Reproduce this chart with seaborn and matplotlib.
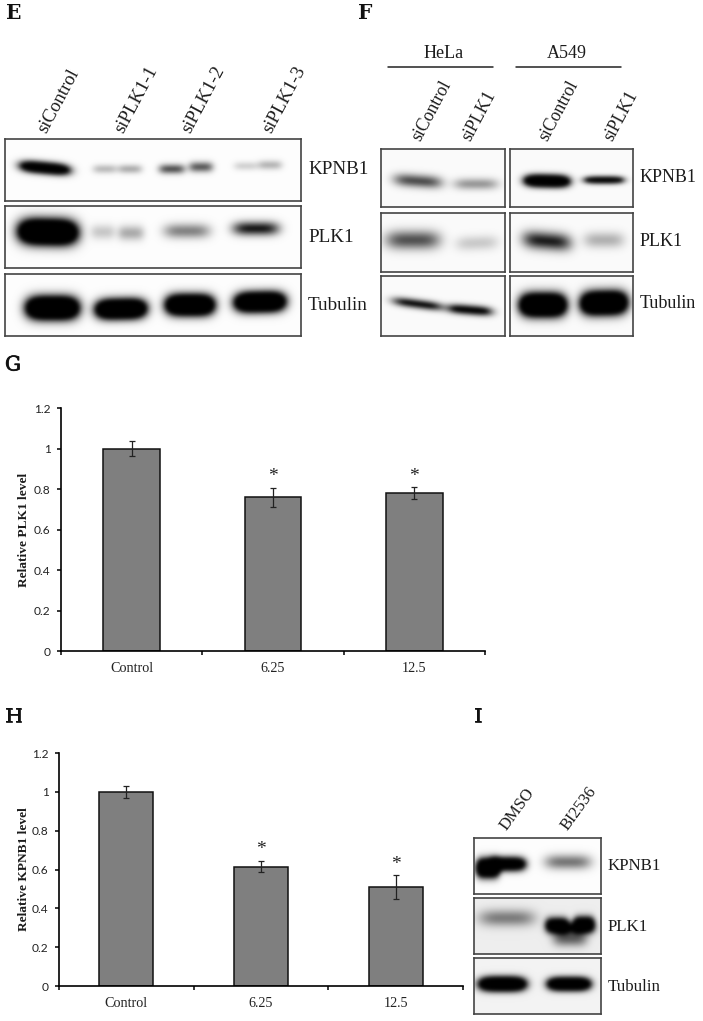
import numpy as np
import seaborn as sns
import matplotlib
matplotlib.use("Agg")
import matplotlib.pyplot as plt
import matplotlib.patheffects as pe

W, H = 703, 1021
SERIF = "Liberation Serif"

# bar chart data
doses = ["Control", "6.25", "12.5"]
plk1_level = [1.0, 0.76, 0.78]
plk1_err = [0.035, 0.047, 0.028]
kpnb1_level = [1.0, 0.615, 0.51]
kpnb1_err = [0.03, 0.029, 0.06]
yticks = [0, 0.2, 0.4, 0.6, 0.8, 1, 1.2]

# blot lane labels
e_lanes = ["siControl", "siPLK1-1", "siPLK1-2", "siPLK1-3"]
f_lanes = ["siControl", "siPLK1"]
i_lanes = ["DMSO", "BI2536"]
proteins = ["KPNB1", "PLK1", "Tubulin"]

# bands: centre x, centre y, half width, half height, darkness, tilt
e_kpnb1 = [(45, 168, 24, 5, 2.2, 0.09),
           (105, 169, 12, 3.8, 0.3, 0), (130, 169, 12, 3.8, 0.36, 0),
           (172, 169, 13, 4.2, 0.75, 0), (201, 167, 12, 4.6, 0.7, 0),
           (246, 166, 12, 3.6, 0.2, 0), (270, 165, 12, 4, 0.32, 0)]
e_plk1 = [(48, 232, 28, 11, 3, 0.02),
          (103, 232, 12, 7, 0.22, 0), (131, 233, 13, 7, 0.34, 0),
          (187, 231, 23, 7, 0.5, 0),
          (256, 228.5, 23, 6.5, 0.95, 0)]
e_tubulin = [(52.5, 308, 25, 10, 3, 0), (121, 309, 24, 8.5, 3, -0.02),
             (190, 305, 23, 9, 3, 0), (260, 302, 24, 8.5, 3, -0.02)]

f_hela_kpnb1 = [(418, 181, 24, 6, 0.72, 0.07), (476, 184, 22, 5.2, 0.42, 0)]
f_hela_plk1 = [(413, 240, 27, 9, 0.68, 0), (477, 243, 21, 7, 0.2, -0.04)]
f_hela_tubulin = [(418, 304, 25, 4, 1.1, 0.13), (470, 310, 22, 4.2, 1.3, 0.08)]
f_a549_kpnb1 = [(547, 181, 21, 5, 3, 0.02), (604, 180, 19, 3, 1.9, 0)]
f_a549_plk1 = [(547, 241, 24, 8.5, 0.9, 0.08), (604, 240, 20, 7.5, 0.3, 0)]
f_a549_tubulin = [(543, 305, 22, 10, 3, 0), (604, 303, 22, 10, 3, -0.02)]

i_kpnb1 = [(488, 868, 11, 8, 3, 0), (508, 864, 17, 6, 2.2, 0),
           (568, 862, 23, 7, 0.55, 0)]
i_plk1 = [(507, 918, 28, 8, 0.46, 0), (557, 925, 11, 6.5, 1.7, 0),
          (584, 924, 10, 6.5, 2, 0), (571, 928, 22, 6, 0.85, 0),
          (570, 939, 17, 7, 0.55, 0)]
i_tubulin = [(502.5, 984, 22, 6, 3, 0), (569, 984, 20, 5.5, 3, 0)]

sns.set_theme(style="white")
fig = plt.figure(figsize=(W / 100, H / 100), dpi=100, facecolor="white")


def px_axes(x0, y0, x1, y1):
    return fig.add_axes([x0 / W, 1 - y1 / H, (x1 - x0) / W, (y1 - y0) / H])


def ftext(x, y, s, **kw):
    kw.setdefault("family", SERIF)
    kw.setdefault("color", "#1c1c1c")
    return fig.text(x / W, 1 - y / H, s, **kw)


def soften(img, sigma=1.8):
    # film blur, run along both axes
    r = np.arange(-6, 7)
    k = np.exp(-r ** 2 / (2 * sigma ** 2))
    k /= k.sum()
    pad = np.pad(img, 6, mode="edge")
    pad = np.apply_along_axis(lambda v: np.convolve(v, k, mode="same"), 0, pad)
    pad = np.apply_along_axis(lambda v: np.convolve(v, k, mode="same"), 1, pad)
    return pad[6:-6, 6:-6]


def blot(frame, bands, haze=0.01):
    # film strip drawn as a heatmap, one cell per pixel
    x0, y0, x1, y1 = frame
    xx, yy = np.meshgrid(np.arange(x0, x1) + 0.5, np.arange(y0, y1) + 0.5)
    dark = np.zeros_like(xx) + haze
    for cx, cy, hw, hh, d, tilt in bands:
        ny = (yy - cy - tilt * (xx - cx)) / hh
        nx = (xx - cx) / hw
        dark += d * np.exp(-nx ** 4) * np.exp(-ny ** 2)
    ax = px_axes(x0, y0, x1, y1)
    sns.heatmap(soften(np.clip(dark, 0, 1)), cmap="gray_r", vmin=0, vmax=1, cbar=False,
                xticklabels=False, yticklabels=False, ax=ax)
    for s in ax.spines.values():
        s.set_visible(True)
        s.set_color("#444444")
        s.set_linewidth(1.2)


def bar_panel(frame, values, errs, ylabel, label_x):
    x0, y0, x1, y1 = frame
    ax = px_axes(x0, y0, x1, y1)
    sns.barplot(x=doses, y=values, color="#7f7f7f", saturation=1, width=0.4,
                edgecolor="#111111", linewidth=1.1, errorbar=None, ax=ax)
    ax.errorbar(range(3), values, yerr=errs, fmt="none", ecolor="#222222",
                elinewidth=0.9, capsize=2, capthick=0.9)
    ax.set_xlim(-0.5, 2.5)
    ax.set_ylim(0, 1.2)
    ax.set_yticks(yticks)
    ax.set_yticklabels(["0", "0.2", "0.4", "0.6", "0.8", "1", "1.2"],
                       family="Lato", fontsize=8.6, color="#222222")
    ax.set_xticks(range(3))
    ax.set_xticklabels(doses, family=SERIF, fontsize=10.2, color="#222222")
    ax.set_xticks([-0.5, 0.5, 1.5, 2.5], minor=True)
    ax.tick_params(axis="x", which="major", length=0, pad=8)
    ax.tick_params(axis="x", which="minor", length=3, width=1.1, color="black",
                   direction="out", bottom=True)
    ax.tick_params(axis="y", length=3, width=1.1, color="black", direction="out",
                   left=True, pad=4.5)
    sns.despine(ax=ax)
    for s in ["left", "bottom"]:
        ax.spines[s].set_linewidth(1.2)
        ax.spines[s].set_color("black")
    ax.set_ylabel(ylabel, family=SERIF, fontsize=9.6, fontweight="bold", color="#1c1c1c")
    ax.yaxis.set_label_coords((label_x - x0) / (x1 - x0), 0.5)
    for i in [1, 2]:
        ax.annotate("*", (i, values[i] + errs[i]), xytext=(0, 2), textcoords="offset points",
                    ha="center", va="bottom", family=SERIF, fontsize=14, color="#222222")


# panel E
e_rows = [(5, 139, 301, 201), (5, 206, 301, 268), (5, 274, 301, 336)]
for frame, bands in zip(e_rows, [e_kpnb1, e_plk1, e_tubulin]):
    blot(frame, bands)
for x, name in zip([42, 119, 186, 267], e_lanes):
    ftext(x, 132, name, rotation=62, rotation_mode="anchor", ha="left", va="center", fontsize=13.5)
for y, name in zip([170, 238, 305], proteins):
    ftext(308, y, name, ha="left", va="center", fontsize=13.8)

# panel F
hela_rows = [(381, 149, 505, 207), (381, 213, 505, 272), (381, 276, 505, 336)]
a549_rows = [(510, 149, 633, 207), (510, 213, 633, 272), (510, 276, 633, 336)]
for frame, bands in zip(hela_rows, [f_hela_kpnb1, f_hela_plk1, f_hela_tubulin]):
    blot(frame, bands, haze=0.02)
for frame, bands in zip(a549_rows, [f_a549_kpnb1, f_a549_plk1, f_a549_tubulin]):
    blot(frame, bands, haze=0.02)
for x, name in zip([416, 466, 543, 608], f_lanes + f_lanes):
    ftext(x, 140, name, rotation=62, rotation_mode="anchor", ha="left", va="center", fontsize=12.8)
for y, name in zip([178, 242, 304], proteins):
    ftext(640, y, name, ha="left", va="center", fontsize=13)
ftext(444, 54, "HeLa", ha="center", va="center", fontsize=13)
ftext(567, 54, "A549", ha="center", va="center", fontsize=13)
for x0, x1 in [(388, 493), (516, 621)]:
    fig.add_artist(plt.Line2D([x0 / W, x1 / W], [1 - 67 / H] * 2, color="#222222", lw=1.1))

# panels G and H
bar_panel((61, 408, 485, 651), plk1_level, plk1_err, "Relative PLK1 level", 30)
bar_panel((59, 753, 463, 986), kpnb1_level, kpnb1_err, "Relative KPNB1 level", 30)

# panel I
i_rows = [(474, 838, 601, 894), (474, 898, 601, 954), (474, 958, 601, 1014)]
blot(i_rows[0], i_kpnb1)
blot(i_rows[1], i_plk1, haze=0.07)
blot(i_rows[2], i_tubulin, haze=0.05)
for x, name in zip([503, 564], i_lanes):
    ftext(x, 829, name, rotation=54, rotation_mode="anchor", ha="left", va="center", fontsize=12)
for y, name in zip([866, 927, 987], proteins):
    ftext(608, y, name, ha="left", va="center", fontsize=12.2)

# panel letters
for x, y, s, w in [(6, 13, "E", "bold"), (358, 13, "F", "bold"), (5, 365, "G", "normal"),
                   (5, 717, "H", "normal"), (474, 717, "I", "normal")]:
    t = ftext(x, y, s, family="DejaVu Serif", ha="left", va="center", fontsize=14.5,
              fontweight=w, color="#111111")
    if w == "normal":
        t.set_path_effects([pe.withStroke(linewidth=0.5, foreground="#111111")])

fig.savefig("out.png", dpi=100)
